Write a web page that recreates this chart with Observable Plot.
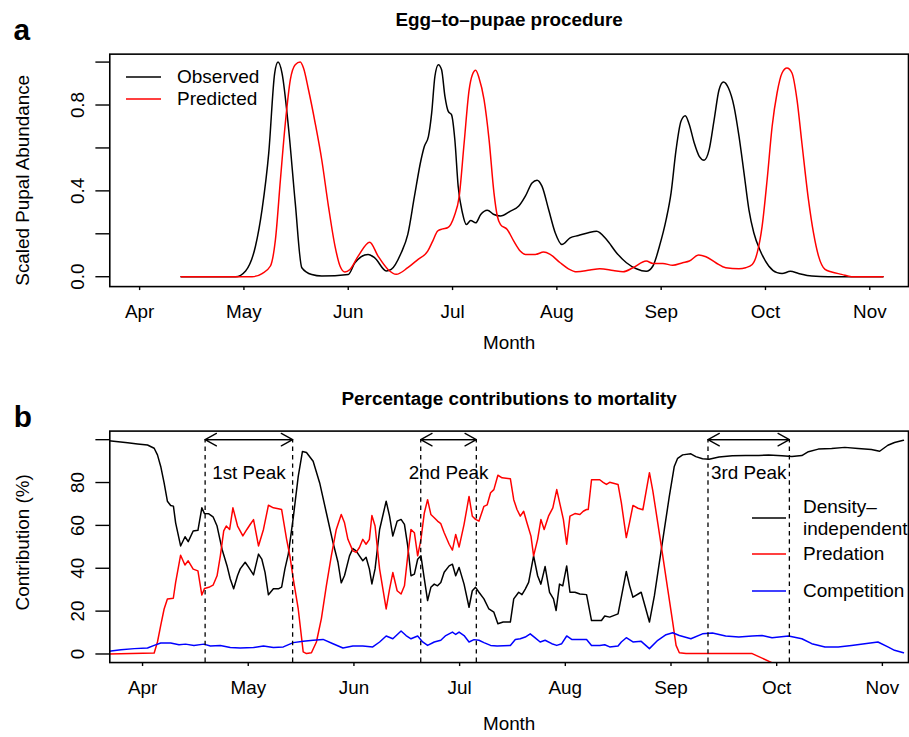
<!DOCTYPE html>
<html><head><meta charset="utf-8">
<script src="https://cdn.jsdelivr.net/npm/d3@7"></script>
<script src="https://cdn.jsdelivr.net/npm/@observablehq/plot@0.6"></script>
<style>
html,body{margin:0;padding:0;background:#fff;overflow:hidden;}
#wrap{position:relative;width:909px;height:737px;overflow:hidden;font-family:"Liberation Sans",Arial,Helvetica,sans-serif;background:#fff;}
#wrap > svg{position:absolute;left:0;}
.legend-row{position:absolute;display:flex;align-items:center;white-space:nowrap;font-size:19px;color:#000;line-height:22px;}
.legend-row svg{position:static;display:block;flex:none;}
</style></head>
<body><div id="wrap"></div>
<script>
// ---------- shared axis data ----------
const monthTicks = [4, 5, 6, 7, 8, 9, 10, 11];
const monthLabels = ["Apr", "May", "Jun", "Jul", "Aug", "Sep", "Oct", "Nov"];

// ---------- panel a: scaled pupal abundance (x in months, 4 = 1 April) ----------
const observed = [[4.397,0],[4.921,0],[5.016,0.027],[5.111,0.143],[5.174,0.314],[5.238,0.577],[5.295,0.949],[5.327,1.0],[5.365,0.949],[5.429,0.686],[5.492,0.344],[5.555,0.042],[5.65,0.01],[5.746,0.003],[6.0,0.01],[6.064,0.065],[6.19,0.104],[6.254,0.088],[6.365,0.027],[6.412,0.034],[6.508,0.112],[6.571,0.197],[6.635,0.375],[6.698,0.545],[6.73,0.608],[6.769,0.654],[6.8,0.763],[6.831,0.934],[6.864,0.988],[6.895,0.964],[6.927,0.84],[6.959,0.77],[6.99,0.755],[7.022,0.638],[7.054,0.421],[7.095,0.297],[7.133,0.243],[7.174,0.262],[7.222,0.251],[7.27,0.29],[7.333,0.31],[7.397,0.29],[7.46,0.283],[7.555,0.306],[7.635,0.329],[7.698,0.375],[7.762,0.437],[7.81,0.45],[7.857,0.422],[7.921,0.313],[7.984,0.205],[8.048,0.15],[8.127,0.181],[8.207,0.192],[8.302,0.205],[8.381,0.212],[8.476,0.173],[8.571,0.112],[8.667,0.065],[8.762,0.037],[8.857,0.025],[8.921,0.05],[8.984,0.143],[9.048,0.267],[9.095,0.391],[9.143,0.592],[9.19,0.724],[9.231,0.75],[9.27,0.708],[9.317,0.623],[9.365,0.561],[9.412,0.543],[9.46,0.592],[9.508,0.732],[9.555,0.871],[9.597,0.907],[9.645,0.879],[9.698,0.794],[9.746,0.655],[9.794,0.484],[9.841,0.313],[9.888,0.205],[9.952,0.119],[10.031,0.05],[10.111,0.019],[10.159,0.015],[10.238,0.025],[10.317,0.015],[10.444,0.003],[10.603,0],[11.127,0]];
const predicted = [[4.397,0],[5.079,0],[5.174,0.015],[5.254,0.05],[5.302,0.173],[5.35,0.453],[5.397,0.716],[5.445,0.918],[5.492,0.988],[5.54,1.0],[5.571,0.972],[5.619,0.871],[5.683,0.716],[5.746,0.545],[5.81,0.329],[5.873,0.143],[5.921,0.05],[5.968,0.022],[6.016,0.034],[6.095,0.096],[6.206,0.161],[6.286,0.096],[6.381,0.034],[6.46,0.011],[6.571,0.042],[6.667,0.08],[6.762,0.119],[6.81,0.166],[6.857,0.213],[6.905,0.223],[6.952,0.228],[7.016,0.282],[7.064,0.375],[7.111,0.623],[7.159,0.871],[7.19,0.941],[7.222,0.962],[7.254,0.926],[7.302,0.825],[7.35,0.639],[7.397,0.391],[7.429,0.283],[7.46,0.243],[7.524,0.22],[7.587,0.166],[7.651,0.119],[7.698,0.104],[7.794,0.104],[7.873,0.115],[7.936,0.104],[8.032,0.065],[8.111,0.037],[8.19,0.023],[8.317,0.031],[8.412,0.037],[8.54,0.029],[8.635,0.023],[8.73,0.042],[8.857,0.073],[8.921,0.062],[9.016,0.062],[9.111,0.053],[9.206,0.065],[9.27,0.073],[9.359,0.101],[9.429,0.093],[9.524,0.065],[9.619,0.042],[9.746,0.037],[9.81,0.042],[9.873,0.057],[9.921,0.112],[9.968,0.236],[10.016,0.453],[10.064,0.701],[10.111,0.856],[10.159,0.949],[10.206,0.972],[10.254,0.949],[10.302,0.825],[10.349,0.623],[10.412,0.359],[10.46,0.205],[10.508,0.097],[10.571,0.034],[10.635,0.022],[10.73,0.011],[10.825,0],[11.127,0]];
const yTicksA = [0, 0.2, 0.4, 0.6, 0.8, 1.0];
const yLabelsA = [0, 0.4, 0.8];

// ---------- panel b: percentage contributions to mortality ----------
const densityIndependent = [[3.671,99.5],[3.859,98.6],[3.953,98.0],[4.047,97.5],[4.11,96.0],[4.141,92.9],[4.172,87.5],[4.204,79.8],[4.235,71.3],[4.266,69.3],[4.292,69.0],[4.313,61.2],[4.36,50.4],[4.402,54.7],[4.432,52.4],[4.479,57.4],[4.524,57.7],[4.561,68.2],[4.586,65.5],[4.627,65.4],[4.667,64.0],[4.705,59.7],[4.752,48.9],[4.799,41.2],[4.83,35.0],[4.862,30.4],[4.899,36.6],[4.924,39.7],[4.971,42.8],[5.003,40.5],[5.05,36.9],[5.097,46.6],[5.128,44.3],[5.159,38.1],[5.191,27.6],[5.238,30.4],[5.285,30.4],[5.316,31.2],[5.347,39.7],[5.379,46.6],[5.426,63.6],[5.473,82.9],[5.513,94.5],[5.551,94.0],[5.614,89.9],[5.676,79.8],[5.739,65.9],[5.802,52.0],[5.849,42.8],[5.88,33.2],[5.911,36.6],[5.958,45.8],[5.99,49.2],[6.021,48.1],[6.052,45.8],[6.084,43.5],[6.115,45.1],[6.146,39.7],[6.17,32.7],[6.2,39.7],[6.243,58.1],[6.305,71.3],[6.337,64.3],[6.368,55.0],[6.409,62.0],[6.446,62.8],[6.478,60.5],[6.509,50.4],[6.54,36.5],[6.572,37.3],[6.603,44.2],[6.634,45.8],[6.666,35.0],[6.697,24.9],[6.728,31.1],[6.76,32.6],[6.791,31.8],[6.822,33.4],[6.854,38.1],[6.901,41.1],[6.932,41.9],[6.963,36.5],[6.995,40.4],[7.042,32.6],[7.089,21.8],[7.12,29.5],[7.151,31.1],[7.183,28.8],[7.23,25.7],[7.277,21.0],[7.324,19.5],[7.362,14.1],[7.412,14.9],[7.48,14.9],[7.512,25.7],[7.559,28.8],[7.59,27.7],[7.621,30.3],[7.653,33.4],[7.7,45.8],[7.738,36.5],[7.769,32.6],[7.809,40.8],[7.851,28.8],[7.888,25.7],[7.913,20.3],[7.945,32.6],[7.976,31.8],[8.013,41.1],[8.044,28.8],[8.091,28.8],[8.138,28.0],[8.201,27.7],[8.248,15.6],[8.295,15.6],[8.342,15.6],[8.373,17.7],[8.42,17.2],[8.499,18.7],[8.53,26.5],[8.577,38.5],[8.608,31.9],[8.64,26.5],[8.718,28.8],[8.796,14.9],[8.843,27.2],[8.89,42.7],[8.937,58.1],[8.984,73.5],[9.031,87.5],[9.063,91.3],[9.11,92.9],[9.188,93.4],[9.235,92.1],[9.298,91.1],[9.36,90.9],[9.454,91.9],[9.58,92.5],[9.705,92.6],[9.83,92.6],[9.924,92.9],[10.05,92.5],[10.144,92.1],[10.238,92.6],[10.3,94.4],[10.394,95.6],[10.52,95.9],[10.645,96.4],[10.77,95.9],[10.896,95.4],[10.974,94.6],[11.052,97.4],[11.115,98.7],[11.199,99.7]];
const predation = [[3.671,0],[4.11,0.5],[4.141,5.6],[4.172,13.3],[4.204,21.0],[4.235,25.7],[4.291,26.0],[4.313,33.4],[4.36,46.1],[4.401,41.5],[4.432,43.5],[4.479,39.6],[4.524,38.8],[4.561,27.5],[4.586,30.6],[4.627,31.1],[4.667,32.1],[4.705,36.5],[4.736,45.8],[4.768,57.4],[4.792,59.7],[4.824,58.1],[4.855,68.2],[4.899,59.7],[4.949,55.1],[4.987,58.1],[5.018,60.4],[5.05,62.7],[5.097,50.4],[5.144,58.1],[5.191,69.4],[5.238,68.2],[5.285,67.8],[5.316,67.4],[5.363,53.5],[5.394,45.8],[5.426,35.0],[5.473,21.0],[5.52,1.0],[5.551,0.2],[5.598,0.6],[5.645,5.6],[5.692,16.5],[5.739,31.8],[5.786,45.8],[5.833,58.1],[5.88,65.1],[5.911,61.2],[5.943,53.5],[5.99,48.1],[6.021,47.4],[6.052,49.7],[6.084,53.5],[6.115,51.2],[6.146,53.5],[6.17,64.6],[6.2,59.7],[6.243,39.6],[6.305,21.0],[6.337,30.3],[6.368,38.0],[6.409,29.5],[6.446,28.0],[6.478,31.8],[6.509,45.8],[6.54,58.1],[6.572,56.6],[6.603,45.8],[6.634,53.5],[6.666,65.8],[6.697,72.0],[6.728,65.1],[6.76,63.6],[6.791,62.0],[6.822,60.8],[6.854,56.6],[6.901,51.2],[6.932,48.5],[6.963,55.8],[6.995,49.9],[7.042,60.5],[7.089,73.5],[7.12,64.3],[7.151,62.8],[7.183,62.0],[7.23,68.9],[7.261,69.6],[7.293,75.2],[7.324,76.7],[7.362,83.4],[7.402,82.2],[7.48,81.8],[7.512,72.0],[7.543,67.4],[7.574,64.3],[7.606,66.6],[7.637,61.2],[7.675,55.0],[7.7,45.8],[7.738,53.5],[7.769,62.7],[7.8,58.1],[7.841,64.3],[7.882,68.2],[7.919,76.7],[7.951,69.6],[7.982,62.7],[8.013,51.2],[8.044,64.3],[8.091,65.5],[8.138,65.1],[8.17,66.6],[8.201,67.4],[8.217,67.4],[8.248,81.3],[8.326,81.3],[8.358,80.1],[8.389,79.1],[8.42,80.1],[8.499,79.1],[8.53,70.6],[8.577,54.3],[8.607,61.2],[8.64,69.3],[8.687,68.0],[8.734,67.3],[8.796,84.6],[8.828,76.1],[8.875,61.1],[8.922,45.8],[8.969,30.3],[9.016,14.9],[9.048,4.0],[9.079,0.6],[9.142,0.2],[9.768,0.2],[10.1,-7.4]];
const competition = [[3.671,1.2],[3.796,2.0],[3.922,2.5],[4.047,2.8],[4.11,4.0],[4.172,5.1],[4.266,5.1],[4.345,4.3],[4.407,4.6],[4.486,4.0],[4.58,4.6],[4.642,3.7],[4.736,4.0],[4.83,3.0],[4.924,2.8],[5.05,3.0],[5.144,3.7],[5.238,3.0],[5.332,3.3],[5.426,5.3],[5.52,5.9],[5.614,6.4],[5.708,6.8],[5.802,4.8],[5.896,2.8],[5.99,3.7],[6.084,3.7],[6.178,3.3],[6.243,5.6],[6.305,8.4],[6.368,7.1],[6.446,10.7],[6.493,8.6],[6.54,7.1],[6.603,8.4],[6.65,5.6],[6.697,4.0],[6.76,5.6],[6.822,6.4],[6.869,8.6],[6.932,10.2],[6.963,9.1],[6.995,10.2],[7.042,8.6],[7.089,5.6],[7.136,6.7],[7.183,6.4],[7.23,5.3],[7.293,4.0],[7.355,3.7],[7.48,4.0],[7.527,6.8],[7.574,7.1],[7.621,7.9],[7.668,9.4],[7.715,7.5],[7.762,5.6],[7.809,6.4],[7.872,4.8],[7.919,4.0],[7.966,4.8],[8.013,8.4],[8.06,6.8],[8.138,6.8],[8.201,6.8],[8.248,4.0],[8.326,4.0],[8.373,4.3],[8.42,3.3],[8.499,3.7],[8.53,5.6],[8.577,7.6],[8.64,5.6],[8.718,5.9],[8.796,2.5],[8.875,6.4],[8.953,9.0],[9.016,9.9],[9.079,8.6],[9.188,7.1],[9.298,9.4],[9.392,9.8],[9.517,8.4],[9.642,7.9],[9.768,8.4],[9.862,8.6],[9.956,7.6],[10.112,8.4],[10.238,7.1],[10.332,4.8],[10.457,3.3],[10.582,3.3],[10.708,4.0],[10.833,4.8],[10.958,5.6],[11.052,3.3],[11.115,1.7],[11.199,0.6]];
const yTicksB = [0, 20, 40, 60, 80, 100];
const yLabelsB = [0, 20, 40, 60, 80];

// peak windows (months)
const peakNames = ["1st Peak", "2nd Peak", "3rd Peak"];
const peakStart = [4.592, 6.632, 9.35];
const peakEnd = [5.42, 7.158, 10.12];
const peakArrowLevel = 100;
const peakLabelLevel = 84.4;

// ---------- build ----------
const FONT = '"Liberation Sans", Arial, Helvetica, sans-serif';
const W = 915;
const px = d => d[0], py = d => d[1];
const peaks = peakNames.map((name, i) => ({name, start: peakStart[i], end: peakEnd[i]}));
const monthFmt = d => monthLabels[monthTicks.indexOf(d)];

const panelA = Plot.plot({
  width: W, height: 370,
  marginLeft: 110, marginRight: 1, marginTop: 54, marginBottom: 82,
  style: {fontFamily: FONT, fontSize: "19px", background: "white", color: "black"},
  x: {domain: [3.714, 11.371]},
  y: {domain: [-0.046, 1.037]},
  marks: [
    Plot.line(observed, {x: px, y: py, stroke: "black", strokeWidth: 1.5, curve: "monotone-x"}),
    Plot.line(predicted, {x: px, y: py, stroke: "#ff0000", strokeWidth: 1.5, curve: "monotone-x"}),
    Plot.frame({stroke: "black", strokeWidth: 1.6}),
    Plot.axisX({ticks: monthTicks, tickFormat: monthFmt, tickSize: 4, tickPadding: 14, strokeWidth: 1.4, label: null, fontSize: 19}),
    Plot.axisY({ticks: yTicksA, tickFormat: () => "", tickSize: 14, strokeWidth: 1.4, label: null}),
    Plot.text(yLabelsA, {y: d => d, text: d => d.toFixed(1), frameAnchor: "left", dx: -32, rotate: -90, textAnchor: "middle", lineAnchor: "middle", fontSize: 19}),
    Plot.text(["Egg\u2013to\u2013pupae procedure"], {text: d => d, frameAnchor: "top", dy: -34.6, lineAnchor: "middle", fontWeight: "bold", fontSize: 19}),
    Plot.text(["a"], {text: d => d, frameAnchor: "top-left", dx: -88.5, dy: -23.6, lineAnchor: "middle", textAnchor: "middle", fontWeight: "bold", fontSize: 30}),
    Plot.text(["Scaled Pupal Abundance"], {text: d => d, frameAnchor: "left", dx: -87, dy: 10, rotate: -90, textAnchor: "middle", lineAnchor: "middle", fontSize: 19}),
    Plot.text(["Month"], {text: d => d, frameAnchor: "bottom", dy: 56.7, lineAnchor: "middle", fontSize: 19})
  ]
});
panelA.style.top = "0px";

const panelB = Plot.plot({
  width: W, height: 367,
  marginLeft: 110, marginRight: 1, marginTop: 61, marginBottom: 73,
  style: {fontFamily: FONT, fontSize: "19px", background: "white", color: "black"},
  x: {domain: [3.690, 11.247]},
  y: {domain: [-4, 104]},
  marks: [
    Plot.line(densityIndependent, {x: px, y: py, stroke: "black", strokeWidth: 1.5, clip: true}),
    Plot.line(predation, {x: px, y: py, stroke: "#ff0000", strokeWidth: 1.5, clip: true}),
    Plot.line(competition, {x: px, y: py, stroke: "#0000ff", strokeWidth: 1.5, clip: true}),
    Plot.ruleX(peakStart.concat(peakEnd), {y1: -4, y2: peakArrowLevel, stroke: "black", strokeWidth: 1.3, strokeDasharray: "4.5,4"}),
    Plot.arrow(peaks, {x1: d => d.start, x2: d => d.end, y1: peakArrowLevel, y2: peakArrowLevel, stroke: "black", strokeWidth: 1.3, headLength: 15, headAngle: 58}),
    Plot.arrow(peaks, {x1: d => d.end, x2: d => d.start, y1: peakArrowLevel, y2: peakArrowLevel, stroke: "black", strokeWidth: 1.3, headLength: 15, headAngle: 58}),
    Plot.text(peaks, {x: d => (d.start + d.end) / 2, y: peakLabelLevel, text: d => d.name, lineAnchor: "middle", fontSize: 19}),
    Plot.frame({stroke: "black", strokeWidth: 1.6}),
    Plot.axisX({ticks: monthTicks, tickFormat: monthFmt, tickSize: 4, tickPadding: 14, strokeWidth: 1.4, label: null, fontSize: 19}),
    Plot.axisY({ticks: yTicksB, tickFormat: () => "", tickSize: 14, strokeWidth: 1.4, label: null}),
    Plot.text(yLabelsB, {y: d => d, text: d => String(d), frameAnchor: "left", dx: -32, rotate: -90, textAnchor: "middle", lineAnchor: "middle", fontSize: 19}),
    Plot.text(["Percentage contributions to mortality"], {text: d => d, frameAnchor: "top", dy: -32.6, lineAnchor: "middle", fontWeight: "bold", fontSize: 19}),
    Plot.text(["b"], {text: d => d, frameAnchor: "top-left", dx: -87.5, dy: -13.9, lineAnchor: "middle", textAnchor: "middle", fontWeight: "bold", fontSize: 30}),
    Plot.text(["Contribution (%)"], {text: d => d, frameAnchor: "left", dx: -87, dy: -4.5, rotate: -90, textAnchor: "middle", lineAnchor: "middle", fontSize: 19}),
    Plot.text(["Month"], {text: d => d, frameAnchor: "bottom", dy: 61.7, lineAnchor: "middle", fontSize: 19})
  ]
});
panelB.style.top = "370px";

const wrap = document.getElementById("wrap");
wrap.appendChild(panelA);
wrap.appendChild(panelB);

// ---------- legends (HTML overlays) ----------
const legendA = [{label: ["Observed"], color: "black"}, {label: ["Predicted"], color: "#ff0000"}];
const legendB = [{label: ["Density\u2013", "independent"], color: "black"}, {label: ["Predation"], color: "#ff0000"}, {label: ["Competition"], color: "#0000ff"}];

function addLegend(items, left, centers, swatchW, gap) {
  items.forEach((it, i) => {
    const h = it.label.length * 22;
    const row = document.createElement("div");
    row.className = "legend-row";
    row.style.left = left + "px";
    row.style.top = (centers[i] - h / 2) + "px";
    row.style.height = h + "px";
    row.innerHTML = `<svg width="${swatchW}" height="${h}"><line x1="0" x2="${swatchW}" y1="${h/2}" y2="${h/2}" stroke="${it.color}" stroke-width="1.5"/></svg>` +
      `<div style="margin-left:${gap}px">${it.label.join("<br>")}</div>`;
    wrap.appendChild(row);
  });
}
addLegend(legendA, 126, [77, 99], 35, 16);
addLegend(legendB, 752, [518, 554, 591], 34, 17);
</script>
</body></html>
